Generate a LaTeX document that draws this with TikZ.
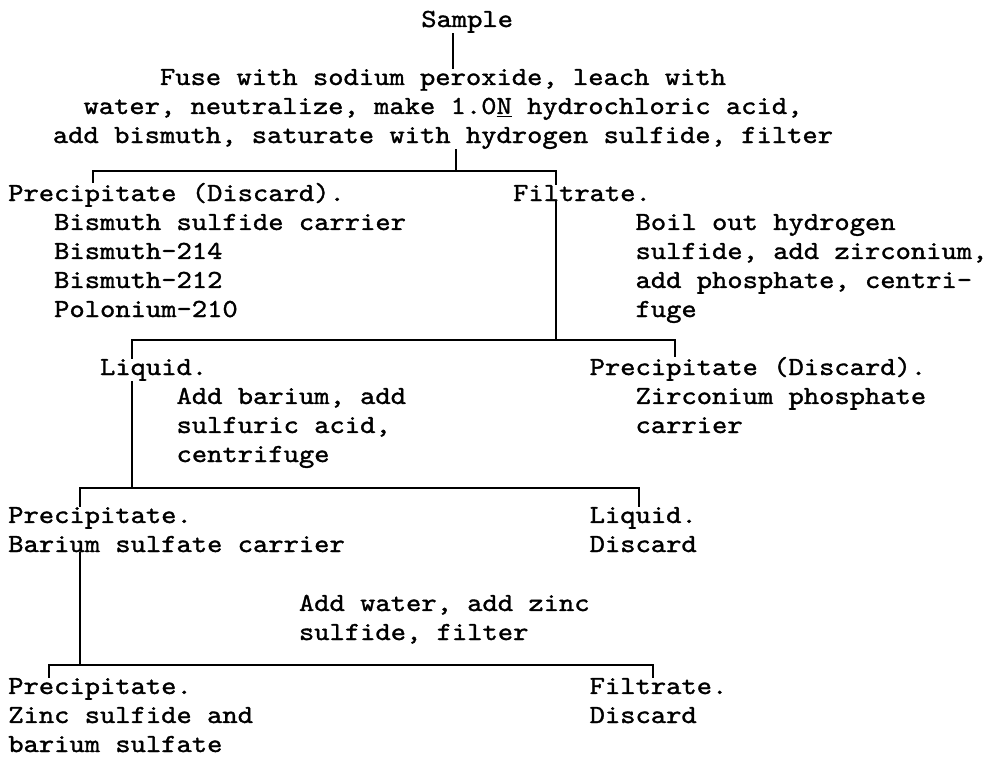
\documentclass[tikz,border=0pt]{standalone}
\usepackage{fontspec}
\newfontfamily\typewriter{lmmono10-regular.otf}[FakeStretch=1.12, FakeBold=1.3]
\usepackage{tikz}

\begin{document}
\begin{tikzpicture}[x=0.025cm, y=-0.025cm,
  txt/.style={anchor=base west, inner sep=0pt, align=left,
    font=\typewriter\fontsize{18.5}{20.63}\selectfont},
  link/.style={line width=1.8pt}]
  \useasboundingbox (0,0) rectangle (1001,762);

  % multi-line nodes sit on the baseline of their last line
  \node[txt] (sample) at (421,27) {Sample};
  \node[txt, anchor=base, align=center] (fuse) at (443,143) {Fuse with sodium peroxide, leach with\\
    water, neutralize, make 1.0\underline{N} hydrochloric acid,\\
    add bismuth, saturate with hydrogen sulfide, filter};

  \node[txt] (pptA) at (8,201) {Precipitate (Discard).};
  \node[txt] (bilist) at (53.9,317) {Bismuth sulfide carrier\\Bismuth-214\\Bismuth-212\\Polonium-210};
  \node[txt] (filA) at (512.9,201) {Filtrate.};
  \node[txt] (boil) at (635.3,317) {Boil out hydrogen\\sulfide, add zirconium,\\add phosphate, centri-\\fuge};

  \node[txt] (liqA) at (99.8,375) {Liquid.};
  \node[txt] (addBa) at (176.3,462) {Add barium, add\\sulfuric acid,\\centrifuge};
  \node[txt] (pptZr) at (589.4,375) {Precipitate (Discard).};
  \node[txt] (zrlist) at (635.3,433) {Zirconium phosphate\\carrier};

  \node[txt] (pptBa) at (8,552) {Precipitate.\\Barium sulfate carrier};
  \node[txt] (liqB) at (589.4,552) {Liquid.\\Discard};
  \node[txt] (addZn) at (298.7,640) {Add water, add zinc\\sulfide, filter};

  \node[txt] (pptZn) at (8,752) {Precipitate.\\Zinc sulfide and\\barium sulfate};
  \node[txt] (filB) at (589.4,723) {Filtrate.\\Discard};

  \coordinate (s0) at (453,0);
  \coordinate (j1) at (456,171);
  \coordinate (c1l) at (93,171);
  \coordinate (c1r) at (556,171);
  \coordinate (c2l) at (132,340);
  \coordinate (c2m) at (556,340);
  \coordinate (c2r) at (675,340);
  \coordinate (c3l) at (80,488);
  \coordinate (c3m) at (132,488);
  \coordinate (c3r) at (639,488);
  \coordinate (c4l) at (49,665);
  \coordinate (c4m) at (80,665);
  \coordinate (c4r) at (653,665);

  \draw[link] (sample.south -| s0) -- (fuse.north -| s0);
  \draw[link] (fuse.south -| j1) -- (j1);
  \draw[link] (pptA.north -| c1l) -- (c1l) -- (c1r) -- (filA.north -| c1r);
  \draw[link] (filA.south -| c2m) -- (c2m);
  \draw[link] (liqA.north -| c2l) -- (c2l) -- (c2r) -- (pptZr.north -| c2r);
  \draw[link] (liqA.south -| c3m) -- (c3m);
  \draw[link] (pptBa.north -| c3l) -- (c3l) -- (c3r) -- (liqB.north -| c3r);
  \draw[link] (pptBa.south -| c4m) -- (c4m);
  \draw[link] (pptZn.north -| c4l) -- (c4l) -- (c4r) -- (filB.north -| c4r);
\end{tikzpicture}
\end{document}
